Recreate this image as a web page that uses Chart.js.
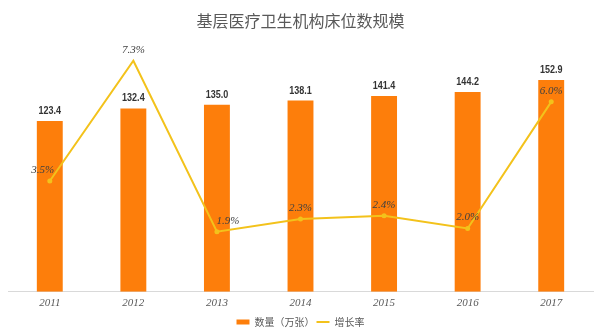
<!DOCTYPE html>
<html lang="zh-CN">
<head>
<meta charset="UTF-8">
<title>基层医疗卫生机构床位数规模</title>
<script src="https://cdn.jsdelivr.net/npm/chart.js"></script>
<style>
    html, body { margin: 0; padding: 0; background: #fff; }
    .wrap { width: 601px; height: 335px; }
</style>
</head>
<body>
<div class="wrap"><canvas id="bedChart"></canvas></div>
<script>
// Data
const years = ['2011', '2012', '2013', '2014', '2015', '2016', '2017'];
const bedCounts = [123.4, 132.4, 135.0, 138.1, 141.4, 144.2, 152.9];   // 万张
const growthRates = [3.5, 7.3, 1.9, 2.3, 2.4, 2.0, 6.0];              // %

// Colors
const barColor = '#FD7E0B';
const lineColor = '#F3C21B';
const cjk = "'Noto Sans CJK SC', 'Noto Sans', sans-serif";

// little nudges for the growth labels (px)
const rateLabelDx = [-7, 0, 11, 0, 0, 0, 0];

const valueLabels = {
    id: 'valueLabels',
    afterDatasetsDraw(chart) {
        const ctx = chart.ctx;
        ctx.save();
        ctx.textAlign = 'center';
        ctx.textBaseline = 'middle';

        // bar values (squeezed to look like a narrow bold face)
        ctx.font = "bold 11px 'Liberation Sans', Arial, sans-serif";
        ctx.fillStyle = '#333';
        chart.getDatasetMeta(0).data.forEach((bar, i) => {
            ctx.save();
            ctx.translate(bar.x, bar.y - 10);
            ctx.scale(0.82, 1);
            ctx.fillText(bedCounts[i].toFixed(1), 0, 0);
            ctx.restore();
        });

        // growth rates
        ctx.font = "italic 11px 'Liberation Serif', 'DejaVu Serif', serif";
        ctx.fillStyle = '#404040';
        chart.getDatasetMeta(1).data.forEach((pt, i) => {
            ctx.fillText(growthRates[i].toFixed(1) + '%', pt.x + rateLabelDx[i], pt.y - 11);
        });
        ctx.restore();
    }
};

new Chart(document.getElementById('bedChart'), {
    data: {
        labels: years,
        datasets: [{
            type: 'bar',
            label: '数量（万张）',
            data: bedCounts,
            backgroundColor: barColor,
            borderWidth: 0,
            barPercentage: 0.31,
            categoryPercentage: 1,
            yAxisID: 'y',
            order: 1
        }, {
            type: 'line',
            label: '增长率',
            data: growthRates,
            borderColor: lineColor,
            backgroundColor: lineColor,
            borderWidth: 2,
            pointRadius: 2.5,
            pointBorderWidth: 0,
            tension: 0,
            clip: false,
            yAxisID: 'y2',
            order: 0
        }]
    },
    options: {
        responsive: true,
        maintainAspectRatio: false,
        animation: false,
        layout: { padding: { left: 8, right: 8, top: 0, bottom: -2 } },
        plugins: {
            title: {
                display: true,
                text: '基层医疗卫生机构床位数规模',
                color: '#595959',
                font: { family: cjk, size: 16, weight: 'normal' },
                padding: { top: 11, bottom: 40 }
            },
            legend: {
                position: 'bottom',
                labels: {
                    color: '#595959',
                    font: { family: cjk, size: 10 },
                    usePointStyle: true,
                    pointStyleWidth: 13,
                    boxHeight: 5,
                    padding: 2,
                    sort: (a, b) => a.datasetIndex - b.datasetIndex,
                    generateLabels(chart) {
                        const items = Chart.defaults.plugins.legend.labels.generateLabels(chart);
                        items.forEach(item => {
                            if (item.datasetIndex === 0) {
                                item.pointStyle = 'rect';
                                item.fillStyle = barColor;
                                item.lineWidth = 0;
                            } else {
                                item.pointStyle = 'line';
                                item.strokeStyle = lineColor;
                                item.fillStyle = lineColor;
                                item.lineWidth = 2;
                            }
                        });
                        return items;
                    }
                }
            },
            tooltip: { enabled: false }
        },
        scales: {
            x: {
                grid: { display: false, drawTicks: false },
                border: { display: true, color: '#d9d9d9' },
                ticks: {
                    color: '#595959',
                    font: { family: "'Liberation Serif', serif", style: 'italic', size: 11 },
                    padding: 5
                }
            },
            y: { display: false, min: 0, max: 160 },
            y2: { display: false, position: 'right', min: 0, max: 7 }
        }
    },
    plugins: [valueLabels]
});
</script>
</body>
</html>
